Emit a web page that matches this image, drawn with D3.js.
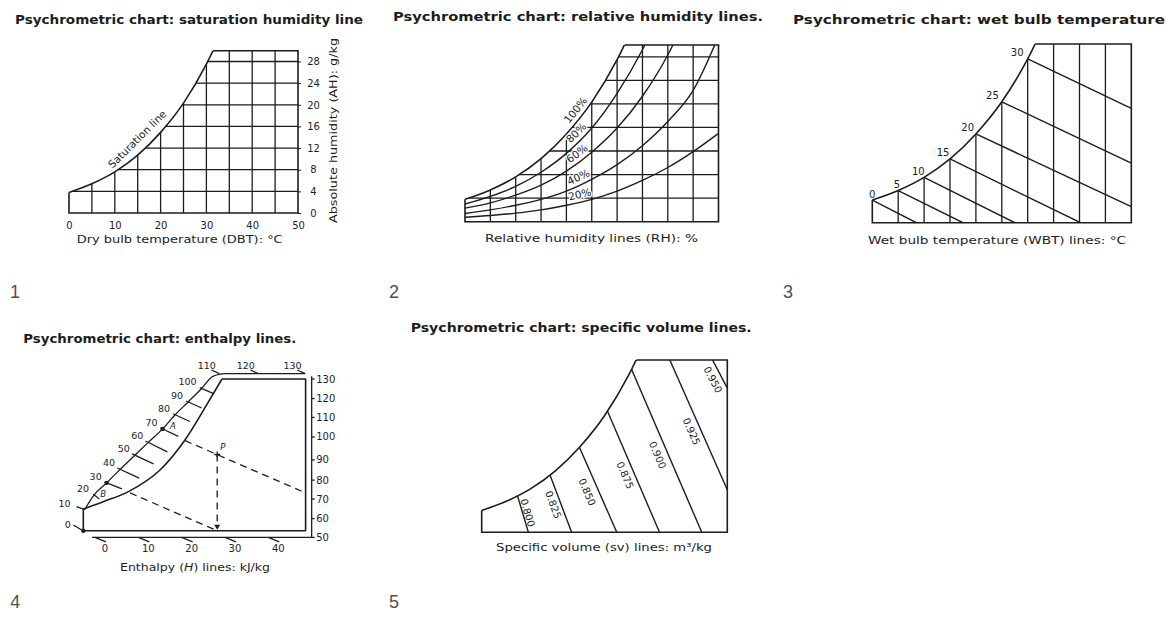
<!DOCTYPE html>
<html>
<head>
<meta charset="utf-8">
<script src="https://cdn.jsdelivr.net/npm/d3@7"></script>
<style>
  body { margin: 0; background: #fff; }
  svg { display: block; font-family: "DejaVu Sans", sans-serif; }
</style>
</head>
<body>
<div id="chart"></div>
<script>
// saturation line shared by panels 1, 2, 3 and 5 (DBT in °C, AH in g/kg)
const satTemp = [0, 5, 10, 15, 20, 25, 30, 35];
const satHum = [3.8, 5.4, 7.6, 10.7, 14.9, 20.3, 27.5, 36.8];

// panel 1 grid and axis ticks
const dbtTicks = [0, 10, 20, 30, 40, 50];
const ahTicks = [0, 4, 8, 12, 16, 20, 24, 28];
const gridTemps = [5, 10, 15, 20, 25, 30, 35, 40, 45];
const gridHums = [4, 8, 12, 16, 20, 24, 28];

// panel 2: relative humidity lines
const rhTemp = [0, 5, 10, 15, 20, 25, 30, 35, 40, 45, 50];
const rhLabels = ["100%", "80%", "60%", "40%", "20%"];
const rh80 = [3.0, 4.3, 6.0, 8.4, 11.6, 15.9, 21.8, 29.2, 38.5];
const rh60 = [2.3, 3.2, 4.5, 6.2, 8.6, 11.8, 15.9, 21.3, 28.3, 37.5];
const rh40 = [1.4, 2.0, 2.8, 3.8, 5.2, 7.2, 9.7, 12.9, 17.0, 22.3, 31.5];
const rh20 = [0.75, 1.05, 1.45, 2.0, 2.8, 3.8, 5.2, 7.0, 9.2, 11.9, 15.0];

// panel 3: wet bulb lines (start on the saturation line, end on the frame)
const wbTemps = [0, 5, 10, 15, 20, 25, 30];
const wbEndTemp = [8.5, 17.5, 27.5, 40.2, 50, 50, 50];
const wbEndHum = [0, 0, 0, 0, 2.7, 10.0, 19.2];

// panel 4: enthalpy scale (schematic drawing)
const p4SatTemp = [-5, -0.4, 5.4, 12.7, 18.5, 23.5, 27.0];
const p4SatHum = [3.2, 4.3, 5.8, 9.0, 13.5, 18.7, 22.5];
const p4ScaleH = [0, 10, 20, 30, 40, 50, 60, 70, 80, 90, 100];
const p4ScaleTemp = [-5, -4.6, -2.5, 0.4, 3.5, 6.9, 10.0, 13.3, 16.2, 19.2, 22.3];
const p4ScaleHum = [0, 3.2, 5.3, 7.1, 9.1, 11.2, 13.1, 15.1, 17.2, 19.1, 21.1];
const p4OuterTemp = [-4.6, -2.5, 0.4, 3.5, 6.9, 10.0, 13.3, 16.2, 19.2, 22.3, 24.9, 27.5];
const p4OuterHum = [3.2, 5.3, 7.1, 9.1, 11.2, 13.1, 15.1, 17.2, 19.1, 21.1, 22.9, 23.3];
const p4TickH = [20, 30, 40, 50, 60, 70, 80, 90, 100];
const p4TickTemp = [-1.3, 3.9, 7.9, 11.2, 14.4, 16.9, 19.6, 22.3, 25.2];
const p4TickHum = [4.7, 6.2, 7.8, 9.9, 11.7, 14.0, 16.2, 18.2, 20.3];
const p4TopH = [110, 120, 130];
const p4TopTemp = [26.4, 35.4, 46.2];
const p4RightH = [130, 120, 110, 100, 90, 80, 70, 60, 50];
const p4RightHum = [22.5, 19.6, 16.8, 13.9, 10.5, 7.5, 4.7, 1.8, -1.0];
const p4BottomH = [0, 10, 20, 30, 40];
const p4PointP = [25.9, 11.3];
const p4Line70 = [[18.5, 13.35], [46.3, 5.6]];
const p4Line30 = [[5.8, 5.6], [25.9, 0]];

// panel 5: specific volume lines
const svValues = ["0.800", "0.825", "0.850", "0.875", "0.900", "0.925", "0.950"];
const svTopTemp = [7.5, 13.9, 20.0, 25.8, 30.7, 38.3, 47.0];
const svTopHum = [5.75, 10.0, 14.6, 20.7, 28.0, 30, 30];
const svLowTemp = [9.5, 18.3, 27.5, 36.2, 44.8, 50, 50];
const svLowHum = [0, 0, 0, 0, 0, 7.4, 25.1];

const ink = "#1d1d1d";
const svg = d3.select("#chart").append("svg").attr("width", 1168).attr("height", 620);
const defs = svg.append("defs");
const satPts = satTemp.map((t, i) => [t, satHum[i]]);

function label(x, y, str, size, opts = {}) {
  const t = svg.append("text").attr("x", x).attr("y", y)
    .attr("font-size", size).attr("fill", opts.fill || ink).text(str);
  if (opts.anchor) t.attr("text-anchor", opts.anchor);
  if (opts.weight) t.attr("font-weight", opts.weight);
  if (opts.family) t.attr("font-family", opts.family);
  if (opts.width) t.attr("textLength", opts.width).attr("lengthAdjust", "spacingAndGlyphs");
  return t;
}

// one panel: DBT 0-50 across, AH 0-30 up, cut off by the saturation line
function chartPanel(id, xRange, yRange) {
  const x = d3.scaleLinear().domain([0, 50]).range(xRange);
  const y = d3.scaleLinear().domain([0, 30]).range(yRange);
  const x0 = x(0), x1 = x(50), yb = y(0), yt = y(30);

  defs.append("clipPath").attr("id", id + "-box")
    .append("rect").attr("x", x0).attr("y", yt).attr("width", x1 - x0).attr("height", yb - yt);
  const under = defs.append("clipPath").attr("id", id + "-under");
  under.append("path")
    .attr("d", d3.area().x(d => x(d[0])).y0(yb + 5).y1(d => y(d[1])).curve(d3.curveMonotoneX)(satPts));
  under.append("rect").attr("x", x(35) - 1).attr("y", yt - 10)
    .attr("width", x1 - x(35) + 12).attr("height", yb - yt + 15);
  defs.append("clipPath").attr("id", id + "-top")
    .append("rect").attr("x", x0 - 5).attr("y", yt).attr("width", x1 - x0 + 10).attr("height", yb - yt + 5);

  const g = svg.append("g");
  const inside = g.append("g").attr("clip-path", `url(#${id}-box)`)
    .append("g").attr("clip-path", `url(#${id}-under)`)
    .attr("fill", "none").attr("stroke", ink).attr("stroke-width", 1.3);

  const frame = g.append("g").attr("fill", "none").attr("stroke", ink).attr("stroke-width", 1.6);
  frame.append("path").attr("clip-path", `url(#${id}-top)`)
    .attr("d", d3.line().x(d => x(d[0])).y(d => y(d[1])).curve(d3.curveMonotoneX)(satPts));
  frame.append("path")
    .attr("d", d3.line()([[x0, y(satHum[0])], [x0, yb], [x1, yb], [x1, yt]]));
  frame.append("line").attr("clip-path", `url(#${id}-under)`)
    .attr("x1", x0).attr("x2", x1 + 0.8).attr("y1", yt).attr("y2", yt);
  return { x, y, inside };
}

function grid(p, withRows) {
  p.inside.selectAll(".vgrid").data(gridTemps).join("line").attr("class", "vgrid")
    .attr("x1", d => p.x(d)).attr("x2", d => p.x(d)).attr("y1", p.y(0)).attr("y2", p.y(30));
  if (withRows) {
    p.inside.selectAll(".hgrid").data(gridHums).join("line").attr("class", "hgrid")
      .attr("x1", p.x(0)).attr("x2", p.x(50)).attr("y1", d => p.y(d)).attr("y2", d => p.y(d));
  }
}

// ---------- panel 1 ----------
const p1 = chartPanel("p1", [69, 298], [213, 50.7]);
grid(p1, true);

const p1Bottom = svg.append("g").attr("transform", `translate(0,${p1.y(0)})`)
  .call(d3.axisBottom(p1.x).tickValues(dbtTicks).tickSize(0).tickPadding(8.5));
p1Bottom.select(".domain").remove();
p1Bottom.attr("font-family", null).attr("font-size", 10).attr("color", ink);

const p1Right = svg.append("g").attr("transform", `translate(${p1.x(50)},0)`)
  .call(d3.axisRight(p1.y).tickValues(ahTicks).tickSize(3).tickPadding(8));
p1Right.select(".domain").remove();
p1Right.attr("font-family", null).attr("font-size", 10).attr("color", ink);
p1Right.selectAll("text").attr("text-anchor", "middle").attr("x", 15.5);

const satAt = d3.scaleLinear().domain(satTemp).range(satHum);
const satAngle = Math.atan2(p1.y(satHum[4]) - p1.y(satHum[3]), p1.x(20) - p1.x(15)) * 180 / Math.PI;
svg.append("text")
  .attr("transform", `translate(${p1.x(16.7)},${p1.y(satAt(16.7))}) rotate(${satAngle})`)
  .attr("dy", -8).attr("text-anchor", "middle").attr("font-size", 10.5).attr("fill", ink)
  .text("Saturation line");

label(15, 23.5, "Psychrometric chart: saturation humidity line", 12, { weight: "bold", width: 348 });
label(76.7, 243, "Dry bulb temperature (DBT): °C", 11, { width: 206 });
svg.append("text").attr("transform", "translate(337,130.5) rotate(-90)")
  .attr("text-anchor", "middle").attr("font-size", 11).attr("fill", ink)
  .attr("textLength", 185).attr("lengthAdjust", "spacingAndGlyphs")
  .text("Absolute humidity (AH): g/kg");

// ---------- panel 2 ----------
const p2 = chartPanel("p2", [465, 718.5], [221.7, 45]);
grid(p2, true);
const rhSeries = [satHum, rh80, rh60, rh40, rh20]
  .map((vals, i) => ({ label: rhLabels[i], pts: vals.map((v, j) => [rhTemp[j], v]) }));
const rhLine = d3.line().x(d => p2.x(d[0])).y(d => p2.y(d[1])).curve(d3.curveMonotoneX);
p2.inside.selectAll(".rh").data(rhSeries.slice(1)).join("path").attr("class", "rh")
  .attr("stroke-width", 1.4).attr("d", d => rhLine(d.pts));

// labels sit on the lines with a white halo that breaks the grid, as in the print
rhSeries.forEach(s => {
  const a = s.pts[4], b = s.pts[5];
  const w = a[1] + 0.6 * (b[1] - a[1]);
  const ang = Math.atan2(p2.y(b[1]) - p2.y(a[1]), p2.x(b[0]) - p2.x(a[0])) * 180 / Math.PI;
  svg.append("text")
    .attr("transform", `translate(${p2.x(23)},${p2.y(w)}) rotate(${ang})`)
    .attr("dy", -4).attr("text-anchor", "middle").attr("font-size", 10.5).attr("fill", ink)
    .attr("stroke", "#fff").attr("stroke-width", 2.5).attr("paint-order", "stroke")
    .text(s.label);
});

label(393, 20.5, "Psychrometric chart: relative humidity lines.", 12, { weight: "bold", width: 370 });
label(485, 242, "Relative humidity lines (RH): %", 11, { width: 213 });

// ---------- panel 3 ----------
const p3 = chartPanel("p3", [872.3, 1131.3], [222.7, 44]);
grid(p3, false);
p3.inside.selectAll(".wb").data(wbTemps).join("line").attr("class", "wb")
  .attr("stroke-width", 1.4)
  .attr("x1", d => p3.x(d)).attr("y1", (d, i) => p3.y(satHum[i]))
  .attr("x2", (d, i) => p3.x(wbEndTemp[i])).attr("y2", (d, i) => p3.y(wbEndHum[i]));
svg.append("g").selectAll("text").data(wbTemps).join("text")
  .attr("x", (d, i) => p3.x(d) + 3 - 1.2 * i).attr("y", (d, i) => p3.y(satHum[i]) - 2.5)
  .attr("text-anchor", "end").attr("font-size", 10).attr("fill", ink)
  .text(d => d);

label(793, 24, "Psychrometric chart: wet bulb temperature", 13, { weight: "bold", width: 372 });
label(868, 243.5, "Wet bulb temperature (WBT) lines: °C", 11, { width: 258 });

// ---------- panel 5 ----------
const p5 = chartPanel("p5", [481.7, 727.3], [532.3, 360]);
const svLines = svValues.map((v, i) => ({
  v, top: [svTopTemp[i], svTopHum[i]], low: [svLowTemp[i], svLowHum[i]]
}));
// lines run a little past their upper point so the clip ends them on the saturation line
p5.inside.selectAll(".sv").data(svLines).join("line").attr("class", "sv")
  .attr("stroke-width", 1.4)
  .attr("x1", d => p5.x(d.top[0] + 0.3 * (d.top[0] - d.low[0])))
  .attr("y1", d => p5.y(d.top[1] + 0.3 * (d.top[1] - d.low[1])))
  .attr("x2", d => p5.x(d.low[0])).attr("y2", d => p5.y(d.low[1]));
const svLabelLayout = [
  { t: 0.41, dx: 5 }, { t: 0.52, dx: -8 }, { t: 0.52, dx: -12 }, { t: 0.52, dx: -10 },
  { t: 0.52, dx: -11 }, { t: 0.55, dx: -10 }, { t: 0.7, dx: -10 }
];
svLines.forEach((d, i) => {
  const { t, dx } = svLabelLayout[i];
  const tx = p5.x(d.top[0] + t * (d.low[0] - d.top[0])) + dx;
  const ty = p5.y(d.top[1] + t * (d.low[1] - d.top[1]));
  const ang = Math.atan2(p5.y(d.low[1]) - p5.y(d.top[1]), p5.x(d.low[0]) - p5.x(d.top[0])) * 180 / Math.PI;
  svg.append("text").attr("transform", `translate(${tx},${ty}) rotate(${ang})`)
    .attr("dy", "0.35em").attr("text-anchor", "middle").attr("font-size", 10).attr("fill", ink)
    .text(d.v);
});

label(410.7, 332, "Psychrometric chart: specific volume lines.", 12, { weight: "bold", width: 341 });
label(496, 551, "Specific volume (sv) lines: m³/kg", 11, { width: 216 });

// ---------- panel 4 ----------
const x4 = d3.scaleLinear().domain([-5, 46.3]).range([83.3, 305.6]);
const y4 = d3.scaleLinear().domain([0, 22.5]).range([530.7, 379]);
const smooth4 = d3.line().x(d => x4(d[0])).y(d => y4(d[1])).curve(d3.curveMonotoneX);
const straight4 = d3.line().x(d => x4(d[0])).y(d => y4(d[1]));
const outerTop = 23.3, outerRight = 47.7, outerBottom = -1.0;
const g4 = svg.append("g").attr("fill", "none").attr("stroke", ink).attr("stroke-width", 1.6);

const sat4 = p4SatTemp.map((t, i) => [t, p4SatHum[i]]);
g4.append("path").attr("d", smooth4(sat4));
g4.append("path").attr("stroke-linejoin", "round")
  .attr("d", straight4([[-5, p4SatHum[0]], [-5, 0], [46.3, 0], [46.3, 22.5], sat4[sat4.length - 1]]));

const outer = p4OuterTemp.map((t, i) => [t, p4OuterHum[i]]);
const g4s = g4.append("g").attr("stroke-width", 1.3);
g4s.append("path").attr("d", smooth4(outer));
g4s.append("path").attr("d", straight4([outer[outer.length - 1], [46.1, outerTop]]));
g4s.append("path").attr("d", straight4([[outerRight, outerTop - 0.4], [outerRight, outerBottom]]));
g4s.append("path").attr("d", straight4([[-3, outerBottom], [outerRight, outerBottom]]));

// enthalpy ticks from the scale towards the saturation line
g4s.selectAll(".htick").data(p4TickH).join("line").attr("class", "htick")
  .each(function (h, i) {
    const k = p4ScaleH.indexOf(h);
    const sx = x4(p4ScaleTemp[k]), sy = y4(p4ScaleHum[k]);
    const ex = x4(p4TickTemp[i]), ey = y4(p4TickHum[i]);
    d3.select(this).attr("x1", sx - 0.15 * (ex - sx)).attr("y1", sy - 0.15 * (ey - sy))
      .attr("x2", ex).attr("y2", ey);
  });

// left scale labels
p4ScaleH.forEach((h, k) => {
  const px = x4(p4ScaleTemp[k]), py = y4(p4ScaleHum[k]);
  if (h === 0) {
    g4s.append("line").attr("x1", px - 10).attr("y1", py - 5.7).attr("x2", px - 1.6).attr("y2", py - 0.7);
    label(px - 12.5, py - 3, h, 9.5, { anchor: "end" });
  } else if (h === 10) {
    g4s.append("line").attr("x1", px - 8.5).attr("y1", py - 2.5).attr("x2", px).attr("y2", py + 0.5);
    label(px - 14.5, py - 2.2, h, 9.5, { anchor: "end" });
  } else {
    label(px - 5, py - 3, h, 9.5, { anchor: "end" });
  }
});

// top scale labels
p4TopH.forEach((h, i) => {
  const tx = x4(p4TopTemp[i]), ty = y4(outerTop);
  g4s.append("line").attr("x1", tx - 8).attr("y1", ty - 3.6).attr("x2", tx).attr("y2", ty);
  label(tx - 3.5, ty - 5, h, 9.5, { anchor: "end" });
});

// right scale labels
p4RightH.forEach((h, i) => {
  const ty = y4(p4RightHum[i]), tx = x4(outerRight);
  g4s.append("line").attr("x1", tx).attr("x2", tx + 3).attr("y1", ty).attr("y2", ty);
  label(tx + 4.5, ty + 3.5, h, 10, {});
});

// bottom scale labels
p4BottomH.forEach(h => {
  const tx = x4(h), ty = y4(outerBottom);
  g4s.append("line").attr("x1", tx - 10).attr("y1", ty).attr("x2", tx + 1).attr("y2", ty + 4.5);
  label(tx, ty + 15, h, 10, { anchor: "middle" });
});

// worked example: points A, B and P with dashed enthalpy lines
const dashed = g4.append("g").attr("stroke-width", 1.3).attr("stroke-dasharray", "7,5");
dashed.append("path").attr("d", straight4(p4Line70));
dashed.append("path").attr("d", straight4(p4Line30));
dashed.append("path").attr("d", straight4([p4PointP, [p4PointP[0], 0.45]]));
const px = x4(p4PointP[0]), py = y4(p4PointP[1]);
svg.append("path").attr("fill", ink)
  .attr("d", `M${px - 3},${y4(0) - 6} L${px + 3},${y4(0) - 6} L${px},${y4(0) - 1} Z`);
g4.append("path").attr("stroke-width", 1.3).attr("d", `M${px - 3},${py}H${px + 3}M${px},${py - 3}V${py + 3}`);

const kA = p4ScaleH.indexOf(70), kB = p4ScaleH.indexOf(30);
const dots = [[-5, 0], [p4ScaleTemp[kA], p4ScaleHum[kA]], [p4ScaleTemp[kB], p4ScaleHum[kB]]];
svg.append("g").selectAll("circle").data(dots).join("circle")
  .attr("cx", d => x4(d[0])).attr("cy", d => y4(d[1])).attr("r", 2.2).attr("fill", ink);
label(x4(p4ScaleTemp[kA]) + 7.5, y4(p4ScaleHum[kA]) + 0.5, "A", 8.5).attr("font-style", "italic");
label(x4(p4ScaleTemp[kB]) - 6.4, y4(p4ScaleHum[kB]) + 13.8, "B", 8.5).attr("font-style", "italic");
label(px + 3, py - 4.5, "P", 8.5).attr("font-style", "italic");

label(23.3, 342.7, "Psychrometric chart: enthalpy lines.", 12, { weight: "bold", width: 273 });
const hTitle = label(120, 571, "", 11, { width: 150 });
hTitle.append("tspan").text("Enthalpy (");
hTitle.append("tspan").attr("font-style", "italic").text("H");
hTitle.append("tspan").text(") lines: kJ/kg");

// panel numbers
const numberFont = { anchor: "middle", family: "Liberation Sans", fill: "#505050" };
label(15, 298, "1", 18, numberFont);
label(394, 298, "2", 18, numberFont);
label(788, 298, "3", 18, numberFont);
label(15.3, 608, "4", 18, numberFont);
label(394, 608, "5", 18, numberFont);
</script>
</body>
</html>
